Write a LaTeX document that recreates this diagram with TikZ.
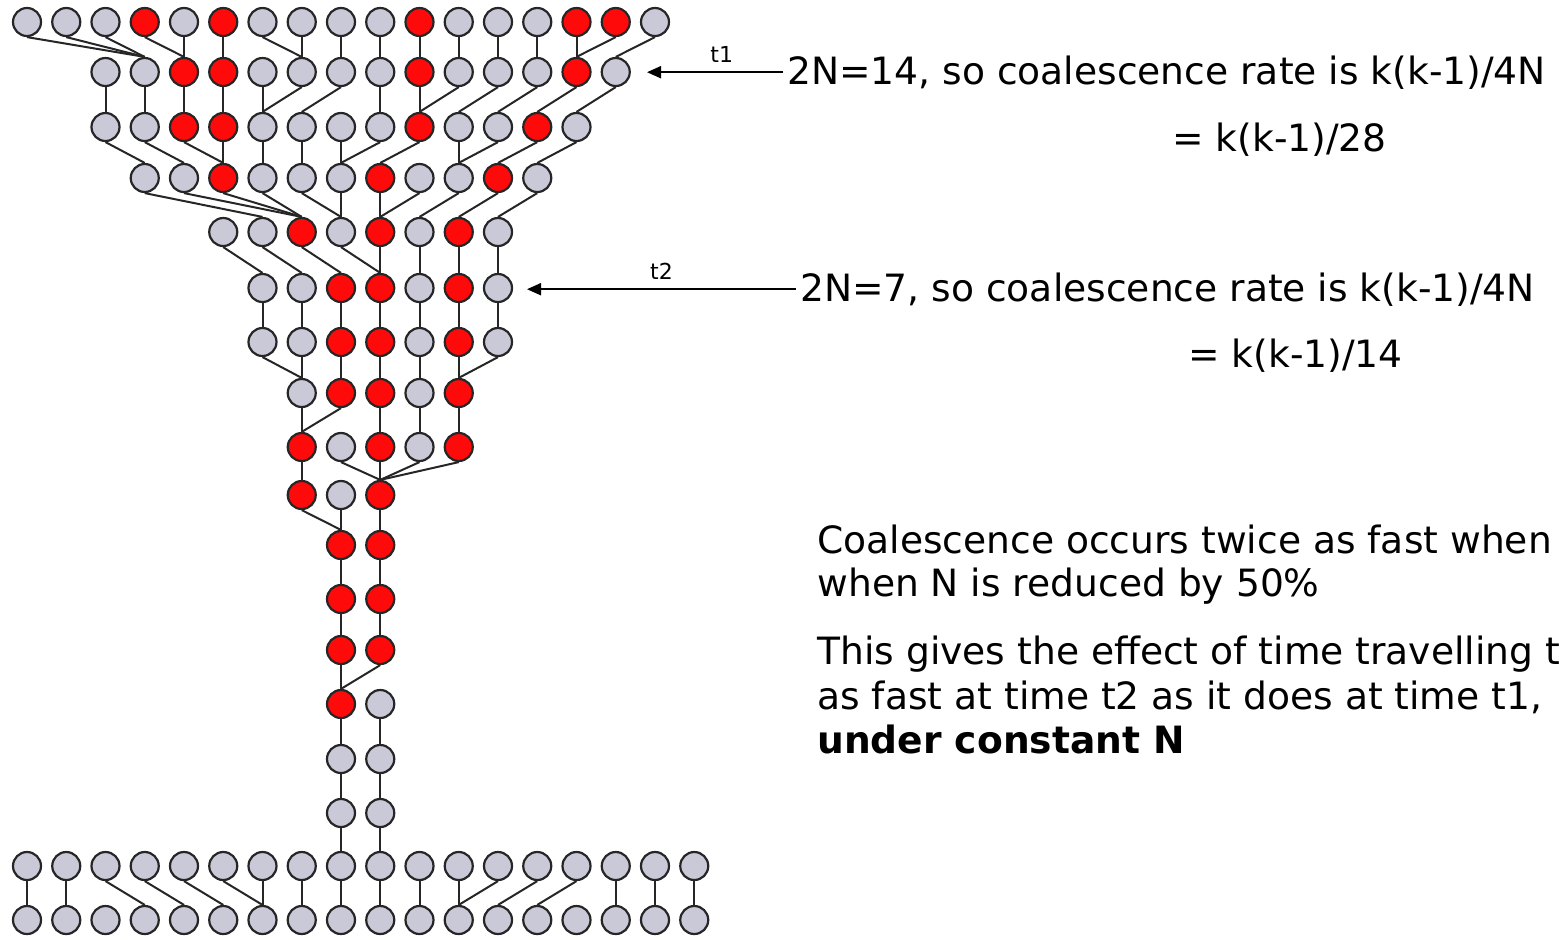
\documentclass[tikz,border=0pt]{standalone}
\usepackage{fontspec}
\setmainfont{DejaVu Sans}
\usepackage{tikz}
\usetikzlibrary{arrows.meta}
\definecolor{Lineage}{HTML}{C9C9D8}
\definecolor{Ancestor}{HTML}{FF0A0A}
\definecolor{Rim}{HTML}{262626}

\begin{document}
\begin{tikzpicture}[
  x=0.5pt,
  y=-0.5pt,
  ind/.style={circle,minimum size=14pt,inner sep=0pt,draw=Rim,line width=1.1pt},
  oth/.style={ind,fill=Lineage},
  anc/.style={ind,fill=Ancestor},
  link/.style={draw=Rim,line width=1pt},
  pointer/.style={-{Triangle[length=7pt,width=6pt]},line width=1pt},
  rate/.style={font=\fontsize{18.8}{22}\selectfont,anchor=base west,inner sep=2pt},
  note/.style={font=\fontsize{18.8}{22}\selectfont,anchor=base west,inner sep=0pt},
  tlabel/.style={font=\fontsize{11}{13}\selectfont,above=1pt}
]
  \useasboundingbox (0,0) rectangle (1559,939);
  \clip (0,0) rectangle (1559,939);

  % Generations, one row each
  \foreach \row/\first/\yy/\kinds in {
    0/0/22/{oth,oth,oth,anc,oth,anc,oth,oth,oth,oth,anc,oth,oth,oth,anc,anc,oth},
    1/2/72/{oth,oth,anc,anc,oth,oth,oth,oth,anc,oth,oth,oth,anc,oth},
    2/2/127/{oth,oth,anc,anc,oth,oth,oth,oth,anc,oth,oth,anc,oth},
    3/3/178/{oth,oth,anc,oth,oth,oth,anc,oth,oth,anc,oth},
    4/5/232/{oth,oth,anc,oth,anc,oth,anc,oth},
    5/6/288/{oth,oth,anc,anc,oth,anc,oth},
    6/6/342/{oth,oth,anc,anc,oth,anc,oth},
    7/7/393/{oth,anc,anc,oth,anc},
    8/7/447/{anc,oth,anc,oth,anc},
    9/7/495/{anc,oth,anc},
    10/8/545/{anc,anc},
    11/8/599/{anc,anc},
    12/8/650/{anc,anc},
    13/8/704/{anc,oth},
    14/8/759/{oth,oth},
    15/8/813/{oth,oth}}{
    \foreach[count=\c from \first] \k in \kinds
      \node[\k] (r\row-\c) at ({27+39.25*\c},\yy) {};
  }
  \foreach \c in {0,...,17} {
    \node[oth] (r16-\c) at ({27+39.25*\c},866) {};
    \node[oth] (r17-\c) at ({27+39.25*\c},920) {};
  }

  % Parent links
  \foreach \a/\b in {0-0/1-3,0-1/1-3,0-2/1-3,0-3/1-4,0-4/1-4,0-5/1-5,0-6/1-7,0-7/1-7,
      0-8/1-8,0-9/1-9,0-10/1-10,0-11/1-11,0-12/1-12,0-13/1-13,0-14/1-14,0-15/1-14,0-16/1-15,
      1-2/2-2,1-3/2-3,1-4/2-4,1-5/2-5,1-6/2-6,1-7/2-6,1-8/2-7,1-9/2-9,1-10/2-10,1-11/2-10,
      1-12/2-11,1-13/2-12,1-14/2-13,1-15/2-14,
      2-2/3-3,2-3/3-4,2-4/3-5,2-5/3-5,2-6/3-6,2-7/3-7,2-8/3-8,2-9/3-8,2-10/3-9,2-11/3-11,
      2-12/3-11,2-13/3-12,2-14/3-13,
      3-3/4-6,3-4/4-7,3-5/4-7,3-6/4-7,3-7/4-8,3-8/4-8,3-9/4-9,3-10/4-9,3-11/4-10,3-12/4-11,3-13/4-12,
      4-5/5-6,4-6/5-7,4-7/5-8,4-8/5-9,4-9/5-9,4-10/5-10,4-11/5-11,4-12/5-12,
      5-6/6-6,5-7/6-7,5-8/6-8,5-9/6-9,5-10/6-10,5-11/6-11,5-12/6-12,
      6-6/7-7,6-7/7-7,6-8/7-8,6-9/7-9,6-10/7-10,6-11/7-11,6-12/7-11,
      7-7/8-7,7-8/8-7,7-9/8-9,7-10/8-10,7-11/8-11,
      8-7/9-7,8-8/9-9,8-9/9-9,8-10/9-9,8-11/9-9,
      9-7/10-8,9-8/10-8,9-9/10-9,
      10-8/11-8,10-9/11-9,11-8/12-8,11-9/12-9,12-8/13-8,12-9/13-8,
      13-8/14-8,13-9/14-9,14-8/15-8,14-9/15-9,15-8/16-8,15-9/16-9,
      16-0/17-0,16-1/17-1,16-2/17-3,16-3/17-4,16-4/17-5,16-5/17-6,16-6/17-6,16-7/17-7,
      16-8/17-8,16-9/17-9,16-10/17-10,16-11/17-11,16-12/17-11,16-13/17-12,16-14/17-13,
      16-15/17-15,16-16/17-16,16-17/17-17}
    \draw[link] (r\a.south) -- (r\b.north);

  % Rates at t1 and t2
  \node[rate] (rate1) at (783,84) {2N=14, so coalescence rate is k(k-1)/4N};
  \node[rate] (rate1b) at (1168,151) {= k(k-1)/28};
  \coordinate (tip1) at (647,70);
  \draw[pointer] (rate1.west) -- (rate1.west -| tip1) node[pos=0.45,tlabel] (lab1) {t1};

  \node[rate] (rate2) at (796,301) {2N=7, so coalescence rate is k(k-1)/4N};
  \node[rate] (rate2b) at (1184,367) {= k(k-1)/14};
  \coordinate (tip2) at (527,288);
  \draw[pointer] (rate2.west) -- (rate2.west -| tip2) node[midway,tlabel] (lab2) {t2};

  % Conclusion
  \node[note] (con1) at (817,553) {Coalescence occurs twice as fast when};
  \node[note] (con2) at (817,596) {when N is reduced by 50\%};
  \node[note] (con3) at (817,664) {This gives the effect of time travelling twice};
  \node[note] (con4) at (817,709) {as fast at time t2 as it does at time t1,};
  \node[note] (con5) at (817,753) {\bfseries under constant N};
\end{tikzpicture}
\end{document}
